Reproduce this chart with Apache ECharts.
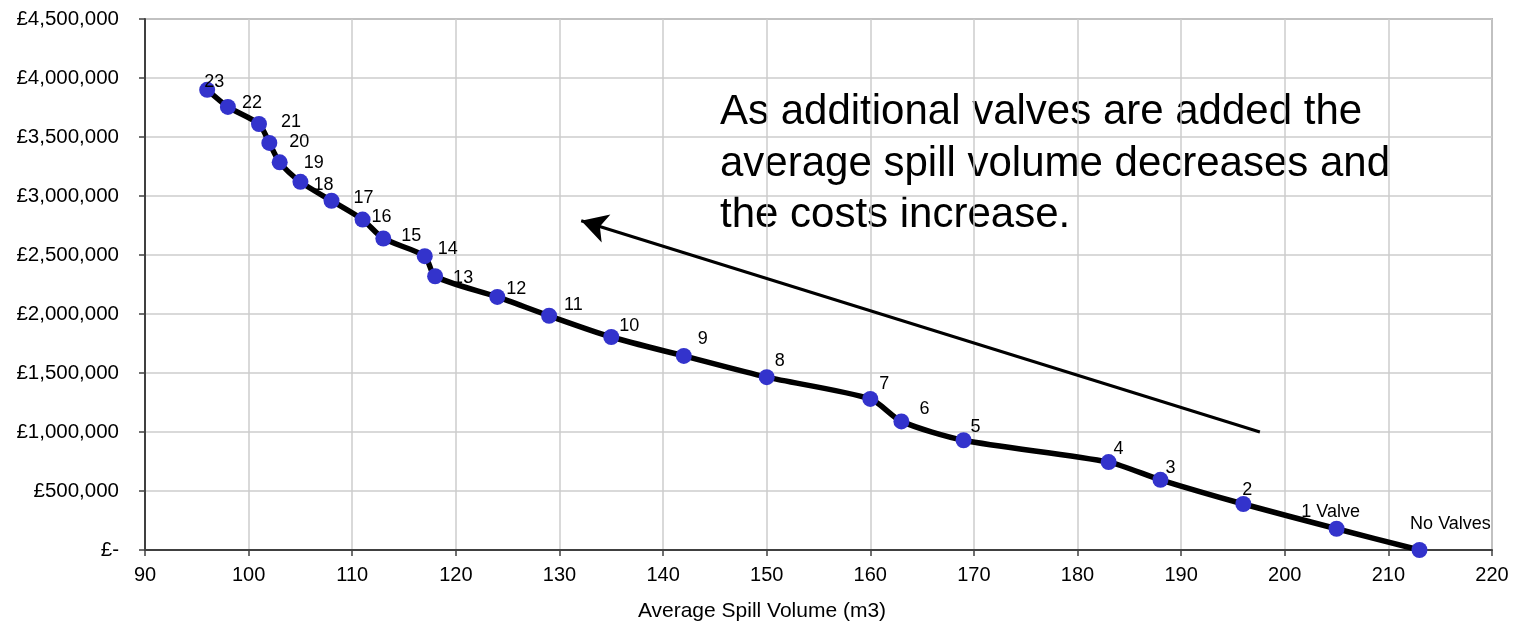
<!DOCTYPE html>
<html><head><meta charset="utf-8">
<script src="https://cdn.jsdelivr.net/npm/echarts@6/dist/echarts.min.js"></script>
<style>html,body{margin:0;padding:0;background:#fff}#c{width:1524px;height:626px}</style>
</head><body><div id="c"></div>
<script>
const labels = ['No Valves','1 Valve','2','3','4','5','6','7','8','9','10','11','12','13','14','15','16','17','18','19','20','21','22','23'];
const spillVolume = [213,205,196,188,183,169,163,160,150,142,135,129,124,118,117,113,111,108,105,103,102,101,98,96];
const cost = [0,180000,390000,595000,745000,930000,1090000,1280000,1465000,1645000,1805000,1985000,2145000,2320000,2490000,2640000,2800000,2960000,3120000,3285000,3450000,3610000,3755000,3900000];
const xTicks = [90,100,110,120,130,140,150,160,170,180,190,200,210,220];
const arrowFrom = [197.6, 1000000];
const arrowTo = [132.1, 2790000];
const note = 'As additional valves are added the\naverage spill volume decreases and\nthe costs increase.';
const axisTitle = 'Average Spill Volume (m3)';

// label placement (style only): [position, dx, dy]
const labelPlace = [
  ['top',31,-4],['top',-6,5],['right',-14,-14],['right',-8,-12],['right',-8,-13],['right',-6,-13],
  ['right',5,-12],['right',-4,-15],['right',-5,-16],['right',1,-17],['right',-5,-11],['right',2,-11],
  ['right',-4,-8],['right',5,2],['right',0,-7],['right',5,-2],['right',-4,-3],['right',9,-3],
  ['right',0,3],['right',11,1],['right',7,-1],['right',9,-2],['right',1,-4],['right',-16,-8]
];

const data = spillVolume.map((x,i) => ({
  value:[x, cost[i]], name: labels[i],
  label:{position: labelPlace[i][0], offset:[labelPlace[i][1], labelPlace[i][2]]}
}));

const chart = echarts.init(document.getElementById('c'));
chart.setOption({
  animation:false,
  grid:{left:145, right:32, top:19, bottom:76, show:true, borderColor:'#808080', borderWidth:1.5},
  xAxis:{type:'value', min:xTicks[0], max:xTicks[xTicks.length-1], interval:10,
    axisLine:{show:true, lineStyle:{color:'#404040', width:2}},
    axisTick:{show:true, inside:false, length:6, lineStyle:{color:'#404040', width:1.5}},
    axisLabel:{fontFamily:'Liberation Sans', fontSize:20, color:'#000', margin:15},
    splitLine:{show:true, lineStyle:{color:'#cccccc', width:1.5}}},
  yAxis:{type:'value', min:0, max:4500000, interval:500000,
    axisLine:{show:true, lineStyle:{color:'#404040', width:2}},
    axisTick:{show:true, inside:false, length:6, lineStyle:{color:'#404040', width:1.5}},
    axisLabel:{fontFamily:'Liberation Sans', fontSize:20.5, color:'#000', margin:26,
      formatter: v => v === 0 ? '£-' : '£' + v.toLocaleString('en-GB')},
    splitLine:{show:true, lineStyle:{color:'#cccccc', width:1.5}}},
  graphic:[
    {type:'text', left:720, top:87, style:{text:note, font:'42px "Liberation Sans"', fill:'#000', lineHeight:51.5}},
    {type:'text', left:'center', top:601, style:{text:axisTitle, font:'21px "Liberation Sans"', fill:'#000'}}
  ],
  series:[{
    type:'line', data, smooth:0.25,
    lineStyle:{color:'#000', width:5.5},
    symbol:'circle', symbolSize:16,
    itemStyle:{color:'#3333cc'},
    label:{show:true, formatter: p => p.name, fontFamily:'Liberation Sans', fontSize:18, color:'#000'},
    markLine:{silent:true, symbol:['none','arrow'], symbolSize:[22,26],
      lineStyle:{color:'#000', width:3, type:'solid'}, label:{show:false},
      data:[[{coord:arrowFrom},{coord:arrowTo}]]}
  }]
});
</script></body></html>
